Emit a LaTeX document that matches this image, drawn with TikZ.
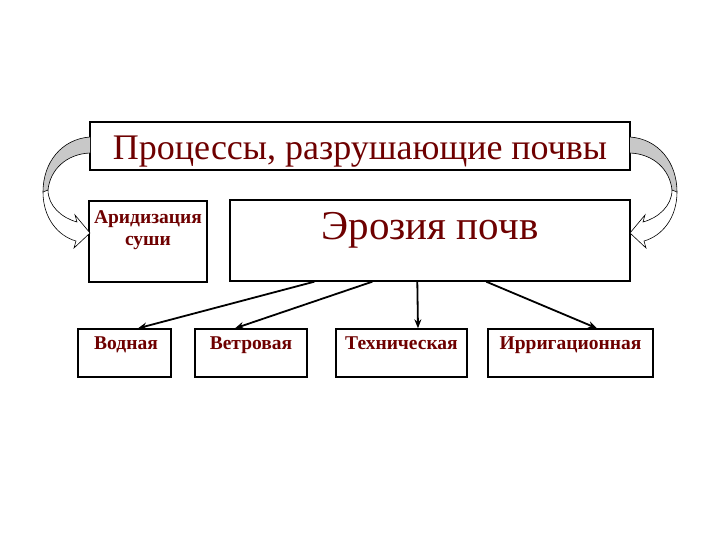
\documentclass[tikz,border=0pt]{standalone}
\usepackage{fontspec}
\setmainfont{Liberation Serif}
\usetikzlibrary{arrows.meta,calc}
\definecolor{txt}{RGB}{110,0,0}
\definecolor{bandgray}{RGB}{200,200,200}
\tikzset{
  box/.style={draw=black,line width=1.4pt,fill=white,inner sep=0pt},
  small/.style={text=txt,font=\fontsize{19.5}{22}\selectfont\bfseries,inner sep=0pt,anchor=base},
  conn/.style={line width=1.8pt,-{Stealth[length=9pt,width=7pt]}},
  band/.style={draw=black,line width=0.6pt}
}
\begin{document}
\begin{tikzpicture}[x=1pt,y=-1pt]
\useasboundingbox (0,0) rectangle (720,540);
% boxes
\node[box,minimum width=540pt,minimum height=48pt] (top) at (360,146) {};
\node[box,minimum width=118pt,minimum height=81pt] (ar) at (148,241.5) {};
\node[box,minimum width=400pt,minimum height=81pt] (er) at (430,240.5) {};
\node[box,minimum width=93pt,minimum height=48pt] (vod) at (124.5,353) {};
\node[box,minimum width=112pt,minimum height=48pt] (vet) at (251,353) {};
\node[box,minimum width=131pt,minimum height=48pt] (teh) at (401.5,353) {};
\node[box,minimum width=165pt,minimum height=48pt] (irr) at (570.5,353) {};
% texts
\node[text=txt,font=\fontsize{36}{40}\selectfont,inner sep=0pt,anchor=base] (toptxt) at (360,160) {Процессы, разрушающие почвы};
\node[small] (artxt1) at (148,223) {Аридизация};
\node[small] (artxt2) at (148,245) {суши};
\node[text=txt,font=\fontsize{41}{44}\selectfont,inner sep=0pt,anchor=base] (ertxt) at (430,240) {Эрозия почв};
\node[small] (vodtxt) at (126,349) {Водная};
\node[small] (vettxt) at (251,349) {Ветровая};
\node[small] (tehtxt) at (401.5,349) {Техническая};
\node[small] (irrtxt) at (570.5,349) {Ирригационная};
% connectors
\draw[conn] ([xshift=85pt]er.south west) -- ([xshift=13.5pt]vod.north);
\draw[conn] ([xshift=143pt]er.south west) -- ([xshift=-16pt]vet.north);
\draw[conn] ([xshift=188pt]er.south west) -- ([xshift=16.5pt]teh.north);
\draw[conn] ([xshift=257pt]er.south west) -- ([xshift=26.5pt]irr.north);
% curved block arrows
\foreach \s/\o in {1/0,-1/720}{
  \begin{scope}[xshift=\o pt,xscale=\s]
    \fill[bandgray] (90,137) .. controls (62,139) and (43,162) .. (43,192)
      -- (48,190) .. controls (50,170) and (66,154) .. (90,153) -- cycle;
    \draw[band] (90,137) .. controls (62,139) and (43,162) .. (43,192);
    \draw[band] (48,190) .. controls (50,170) and (66,154) .. (90,153);
    \draw[band,fill=white] (43,192) .. controls (43,218) and (58,236) .. (76,241)
      -- (74,248) -- (90,233) -- (75,215) -- (77,222)
      .. controls (62,218) and (48,206) .. (48,190) -- cycle;
  \end{scope}
}
\end{tikzpicture}
\end{document}
